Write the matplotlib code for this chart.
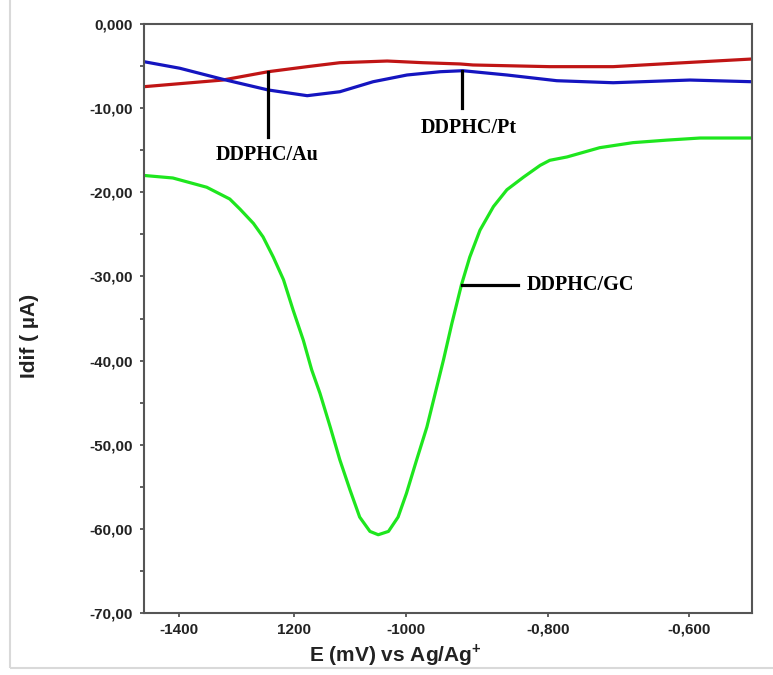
import matplotlib
matplotlib.use('Agg')
import matplotlib.pyplot as plt
from matplotlib.patches import Rectangle

# DATA (E in mV, Idif in uA)
e_gc = [-1450, -1405, -1352, -1316, -1300, -1279, -1264, -1248, -1232, -1217, -1201, -1188,
        -1175, -1159, -1144, -1128, -1113, -1097, -1084, -1068, -1053, -1040, -1024, -1008,
        -995, -982, -969, -954, -941, -925, -904, -883, -857, -831, -816, -789, -738, -686,
        -633, -581, -500]
i_gc = [-18.0, -18.3, -19.4, -20.8, -22.0, -23.7, -25.3, -27.7, -30.4, -34.0, -37.6, -41.1,
        -43.9, -47.9, -51.8, -55.4, -58.6, -60.3, -60.7, -60.3, -58.6, -55.8, -51.8, -47.9,
        -43.9, -39.9, -35.6, -31.0, -27.7, -24.5, -21.7, -19.7, -18.2, -16.8, -16.2, -15.8,
        -14.7, -14.1, -13.8, -13.55, -13.55]

e_au = [-1450, -1327, -1256, -1195, -1144, -1070, -1014, -956, -936, -816, -717, -623, -500]
i_au = [-7.45, -6.66, -5.67, -5.07, -4.60, -4.40, -4.60, -4.75, -4.87, -5.07, -5.07, -4.67, -4.16]

e_pt = [-1450, -1394, -1327, -1256, -1195, -1144, -1092, -1039, -987, -952, -883, -805,
        -717, -597, -500]
i_pt = [-4.48, -5.26, -6.57, -7.84, -8.52, -8.05, -6.86, -6.06, -5.67, -5.55, -6.06, -6.74,
        -6.98, -6.66, -6.86]

x_tick_pos = [-1396, -1215, -1041, -819, -599]
x_tick_lab = ['-1400', '1200', '-1000', '-0,800', '-0,600']
y_tick_pos = [0, -10, -20, -30, -40, -50, -60, -70]
y_tick_lab = ['0,000', '-10,00', '-20,00', '-30,00', '-40,00', '-50,00', '-60,00', '-70,00']

# PLOTTING
plt.rcParams['mathtext.fontset'] = 'custom'
plt.rcParams['mathtext.bf'] = 'Liberation Sans:bold'
plt.rcParams['mathtext.rm'] = 'Liberation Sans:bold'

fig = plt.figure(figsize=(7.73, 6.75), dpi=100)
ax = fig.add_axes([144/773, 1-613/675, 608/773, 589/675])

ax.plot(e_gc, i_gc, color='#1ee61e', lw=2.3, solid_joinstyle='round')
ax.plot(e_au, i_au, color='#c01515', lw=2.3, solid_joinstyle='round')
ax.plot(e_pt, i_pt, color='#1515c0', lw=2.3, solid_joinstyle='round')

ax.set_xlim(-1450, -500)
ax.set_ylim(-70, 0)

ax.set_xticks(x_tick_pos)
ax.set_xticklabels(x_tick_lab)
ax.set_yticks(y_tick_pos)
ax.set_yticklabels(y_tick_lab)
ax.set_yticks([-5, -15, -25, -35, -45, -55, -65], minor=True)

for lab in ax.get_xticklabels() + ax.get_yticklabels():
    lab.set_family('Liberation Sans')
    lab.set_weight('bold')
    lab.set_fontsize(11)
    lab.set_color('#222222')

ax.tick_params(axis='both', which='both', direction='out', length=3, width=1.2, color='#444444')
ax.tick_params(axis='y', pad=5)
ax.tick_params(axis='x', pad=4)
for sp in ax.spines.values():
    sp.set_color('#555555')
    sp.set_linewidth(1.5)

# callout lines and labels
lab_font = dict(family='Liberation Serif', weight='bold', fontsize=14.5, color='black')
ax.plot([-1256, -1256], [-5.67, -13.4], color='black', lw=2.3)
ax.text(-1258, -15.6, 'DDPHC/Au', ha='center', va='center', **lab_font)
ax.plot([-953, -953], [-5.55, -10.0], color='black', lw=2.3)
ax.text(-942, -12.4, 'DDPHC/Pt', ha='center', va='center', **lab_font)
ax.plot([-953, -866], [-31.0, -31.0], color='black', lw=2.3)
ax.text(-852, -31.0, 'DDPHC/GC', ha='left', va='center', **lab_font)

fig.text(395/773, 1-655/675, r'E (mV) vs Ag/Ag$^{\mathbf{+}}$', ha='center', va='center',
         family='Liberation Sans', weight='bold', fontsize=15, color='#222222')
fig.text(30/773, 1-336/675, 'Idif ( µA)', ha='center', va='center', rotation=90,
         family='Liberation Sans', weight='bold', fontsize=15, color='#222222')

# light frame around the picture
fig.patches.append(Rectangle((10/773, 1-668/675), 1.0, 668/675 + 0.01, transform=fig.transFigure,
                             fill=False, edgecolor='#d9d9d9', lw=1.5))

fig.savefig('out.png', dpi=100)
